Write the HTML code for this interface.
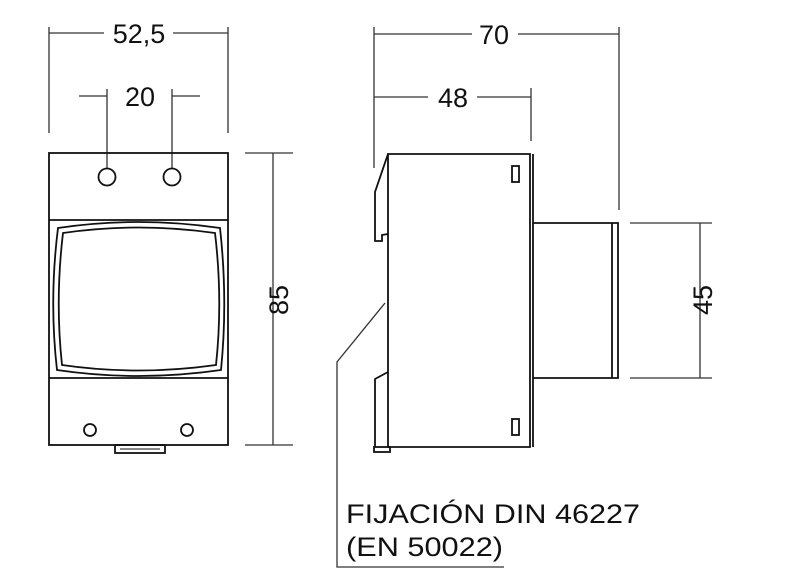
<!DOCTYPE html>
<html><head><meta charset="utf-8"><style>
html,body{margin:0;padding:0;background:#fff;}
svg{display:block;}
text{font-family:"Liberation Sans",Arial,sans-serif;fill:#111;}
</style></head><body>
<svg width="800" height="587" viewBox="0 0 800 587" xmlns="http://www.w3.org/2000/svg">
<g fill="none" stroke="#333" stroke-width="1.3">
<line x1="49" y1="27" x2="49" y2="133"/><line x1="228" y1="27" x2="228" y2="133"/>
<line x1="49" y1="33" x2="104" y2="33"/><line x1="173" y1="33" x2="228" y2="33"/>
<line x1="79" y1="96" x2="107" y2="96"/><line x1="172" y1="96" x2="200" y2="96"/>
<line x1="107" y1="89" x2="107" y2="169"/><line x1="172" y1="89" x2="172" y2="169"/>
<line x1="245" y1="153" x2="293" y2="153"/><line x1="245" y1="445" x2="293" y2="445"/>
<line x1="273" y1="153" x2="273" y2="445"/>
<line x1="374" y1="27" x2="374" y2="168"/><line x1="619" y1="27" x2="619" y2="210"/>
<line x1="374" y1="34" x2="472" y2="34"/><line x1="518" y1="34" x2="619" y2="34"/>
<line x1="374" y1="97" x2="428" y2="97"/><line x1="477" y1="97" x2="531" y2="97"/>
<line x1="531" y1="88" x2="531" y2="141"/>
<line x1="630" y1="223" x2="712" y2="223"/><line x1="630" y1="378" x2="712" y2="378"/>
<line x1="700" y1="223" x2="700" y2="378"/>
<polyline points="385,303 337,362 337,567 504,567"/>
</g>
<g fill="none" stroke="#111" stroke-width="1.8">
<rect x="49" y="153" width="179" height="292"/>
<line x1="49" y1="220" x2="228" y2="220"/><line x1="49" y1="378" x2="228" y2="378"/>
<circle cx="107" cy="177" r="8.5"/><circle cx="172" cy="177" r="8.5"/>
<circle cx="90" cy="430" r="6"/><circle cx="187" cy="430" r="6"/>
<rect x="115" y="445" width="50" height="8"/>
<line x1="120" y1="449" x2="160" y2="449" stroke-width="1"/>
<path d="M58,228 Q138,216 220,228 Q228,300 221,370 Q138,382 57,370 Q49,300 58,228 Z"/>
<path d="M63,233 Q138,222 215,233 Q223,300 216,365 Q138,376 62,365 Q55,300 63,233 Z"/>
<path d="M388,154 L530,154 L530,447 L388,447 Z"/>
<line x1="533" y1="154" x2="533" y2="447"/>
<path d="M388,154 L375,192 L375,241 L382,241 L382,235 L388,234"/>
<path d="M388,372 L375,379 L375,447"/>
<rect x="374" y="447" width="16" height="5"/>
<path d="M533,223 L618,223 L618,378 L533,378"/>
<line x1="612" y1="223" x2="612" y2="378"/>
<rect x="512" y="166" width="7" height="16"/>
<rect x="512" y="419" width="7" height="16"/>
</g>
<g font-size="27">
<text x="139" y="43" text-anchor="middle">52,5</text>
<text x="140" y="106" text-anchor="middle">20</text>
<text x="494" y="44" text-anchor="middle">70</text>
<text x="453" y="107" text-anchor="middle">48</text>
<text transform="translate(288,300) rotate(-90)" text-anchor="middle">85</text>
<text transform="translate(712,300) rotate(-90)" text-anchor="middle">45</text>
<text x="346" y="523" font-size="27" textLength="294" lengthAdjust="spacingAndGlyphs">FIJACIÓN DIN 46227</text>
<text x="346" y="556" font-size="27" textLength="157" lengthAdjust="spacingAndGlyphs">(EN 50022)</text>
</g>
</svg>
</body></html>
